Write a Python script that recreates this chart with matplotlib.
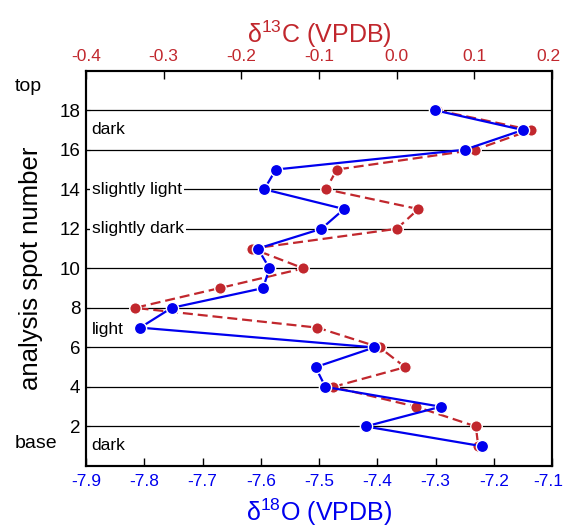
import matplotlib
matplotlib.use("Agg")
import matplotlib.pyplot as plt
import matplotlib.transforms as mtransforms

plt.rcParams['font.family'] = ['Liberation Sans', 'DejaVu Sans']
plt.rcParams['mathtext.fontset'] = 'custom'
plt.rcParams['mathtext.rm'] = 'Liberation Sans'
plt.rcParams['mathtext.it'] = 'Liberation Sans:italic'
plt.rcParams['axes.unicode_minus'] = False

spots = list(range(18, 0, -1))
d18O = [-7.301, -7.150, -7.250, -7.574, -7.594, -7.457, -7.496, -7.605, -7.585,
        -7.596, -7.753, -7.807, -7.405, -7.506, -7.489, -7.291, -7.420, -7.220]
d13C = [0.052, 0.173, 0.101, -0.077, -0.091, 0.028, 0.000, -0.186, -0.120,
        -0.228, -0.337, -0.102, -0.022, 0.011, -0.082, 0.025, 0.102, 0.105]

o_ticks = [-7.9, -7.8, -7.7, -7.6, -7.5, -7.4, -7.3, -7.2, -7.1]
c_ticks = [-0.4, -0.3, -0.2, -0.1, 0.0, 0.1, 0.2]
c_labels = ['-0.4', '-0.3', '-0.2', '-0.1', '0.0', '0.1', '0.2']
y_ticks = [2, 4, 6, 8, 10, 12, 14, 16, 18]

notes = [("dark", 17), ("slightly light", 14), ("slightly dark", 12), ("light", 6.9), ("dark", 1.05)]
ends = [("top", 19.2), ("base", 1.15)]

RED = '#c1272d'
BLUE = '#0000ee'

fig = plt.figure(figsize=(5.65, 5.32), dpi=100)
ax = fig.add_axes([86/565, 66/532, 466/565, 395.3/532])
ax.set_xlim(-0.4, 0.2)
ax.set_ylim(0, 20)
for yv in y_ticks:
    ax.axhline(yv, color='black', lw=0.9, zorder=0)

ax.plot(d13C, spots, color=RED, lw=1.6, ls=(0, (4.5, 2.2)), marker='o', ms=8.3,
        mfc=RED, mec='white', mew=1.0, zorder=3)
ax.set_yticks(y_ticks)
ax.tick_params(axis='y', direction='in', length=3, labelsize=13.5, pad=4)
ax.set_ylabel('analysis spot number', fontsize=18.5, labelpad=12)

ax2 = ax.twiny()
ax2.set_xlim(-7.9, -7.1)
ax2.plot(d18O, spots, color=BLUE, lw=1.6, marker='o', ms=8.8, mfc=BLUE, mec='white',
         mew=1.0, zorder=4)
ax2.xaxis.set_ticks_position('bottom')
ax2.xaxis.set_label_position('bottom')
ax2.set_xticks(o_ticks)
ax2.set_xticklabels([f'{v:.1f}' for v in o_ticks])
ax2.tick_params(axis='x', direction='in', length=6, width=1, colors='black',
                labelcolor=BLUE, labelsize=12.5, pad=6)
ax2.set_xlabel(r'$\mathrm{\delta}^{18}$O (VPDB)', color=BLUE, fontsize=18, labelpad=5)

ax.xaxis.set_ticks_position('top')
ax.xaxis.set_label_position('top')
ax.set_xticks(c_ticks)
ax.set_xticklabels(c_labels)
ax.tick_params(axis='x', which='both', bottom=False, labelbottom=False, top=True, labeltop=True,
               direction='in', length=6, width=1, colors='black',
               labelcolor=RED, labelsize=12.5, pad=5)
ax.set_xlabel(r'$\mathrm{\delta}^{13}$C (VPDB)', color=RED, fontsize=18, labelpad=4)

# nudge the right-most labels slightly inward so they stay inside the canvas
shift = mtransforms.ScaledTranslation(-4/100, 0, fig.dpi_scale_trans)
for lab in (ax2.get_xticklabels()[-1], ax.get_xticklabels()[-1]):
    lab.set_transform(lab.get_transform() + shift)

for a in (ax, ax2):
    for s in a.spines.values():
        s.set_linewidth(1.5)
        s.set_color('black')

for txt, yv in notes:
    ax2.text(0.012, yv, txt, transform=mtransforms.blended_transform_factory(ax2.transAxes, ax.transData),
             ha='left', va='center', fontsize=12.5, zorder=2,
             bbox=dict(facecolor='white', edgecolor='none', pad=1.5))

for txt, yv in ends:
    fig.text(15/565, yv, txt, transform=mtransforms.blended_transform_factory(fig.transFigure, ax.transData),
             ha='left', va='center', fontsize=14)

fig.savefig('out.png', dpi=100)
